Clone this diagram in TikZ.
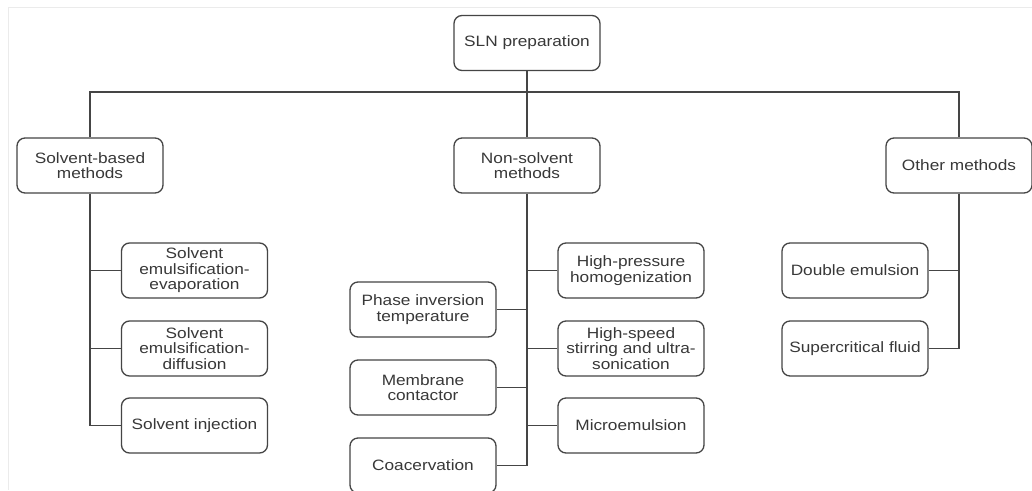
\documentclass[tikz,border=0pt]{standalone}
\usepackage{fontspec}
\setmainfont{Liberation Sans}[FakeStretch=1.15]
\begin{document}
\begin{tikzpicture}[x=1pt,y=-1pt,
  box/.style={draw=linec, line width=1.3pt, rounded corners=8pt, fill=white,
    minimum width=146pt, minimum height=55pt, inner sep=2pt, align=center,
    text=textc, font=\fontsize{15}{15.5}\selectfont},
  conn/.style={draw=linec, line width=1.3pt}]
\definecolor{linec}{HTML}{454545}
\definecolor{textc}{HTML}{383838}
\definecolor{framec}{HTML}{EBEBEB}
\useasboundingbox (0,0) rectangle (1032,490);
\fill[white] (0,0) rectangle (1032,490);
\draw[framec, line width=1pt] (8,490) -- (8,7) -- (1032,7);

\node[box] (sln) at (527,43) {SLN preparation};
\node[box] (sb) at (90,165.5) {Solvent-based\\methods};
\node[box] (ns) at (527,165.5) {Non-solvent\\methods};
\node[box] (om) at (959,165.5) {Other methods};

\node[box] (see) at (194.5,270.5) {Solvent\\emulsification-\\evaporation};
\node[box] (sed) at (194.5,348.5) {Solvent\\emulsification-\\diffusion};
\node[box] (si) at (194.5,425.5) {Solvent injection};

\node[box] (hph) at (631,270.5) {High-pressure\\homogenization};
\node[box] (hss) at (631,348.5) {High-speed\\stirring and ultra-\\sonication};
\node[box] (me) at (631,425.5) {Microemulsion};

\node[box] (pit) at (423,309.5) {Phase inversion\\temperature};
\node[box] (mc) at (423,387.5) {Membrane\\contactor};
\node[box] (coac) at (423,465.5) {Coacervation};

\node[box] (de) at (855,270.5) {Double emulsion};
\node[box] (sf) at (855,348.5) {Supercritical fluid};

\coordinate (bus) at (527,92);
\draw[conn] (sln.south) -- (ns.north);
\draw[conn] (sb.north) |- (bus) -| (om.north);

% solvent-based
\draw[conn] (sb.south) |- (si.west);
\draw[conn] (see.west) -- (see.west -| sb.south);
\draw[conn] (sed.west) -- (sed.west -| sb.south);

% non-solvent
\draw[conn] (ns.south) |- (coac.east);
\draw[conn] (hph.west) -- (hph.west -| ns.south);
\draw[conn] (hss.west) -- (hss.west -| ns.south);
\draw[conn] (me.west) -- (me.west -| ns.south);
\draw[conn] (pit.east) -- (pit.east -| ns.south);
\draw[conn] (mc.east) -- (mc.east -| ns.south);

% other
\draw[conn] (om.south) |- (sf.east);
\draw[conn] (de.east) -- (de.east -| om.south);
\end{tikzpicture}
\end{document}
